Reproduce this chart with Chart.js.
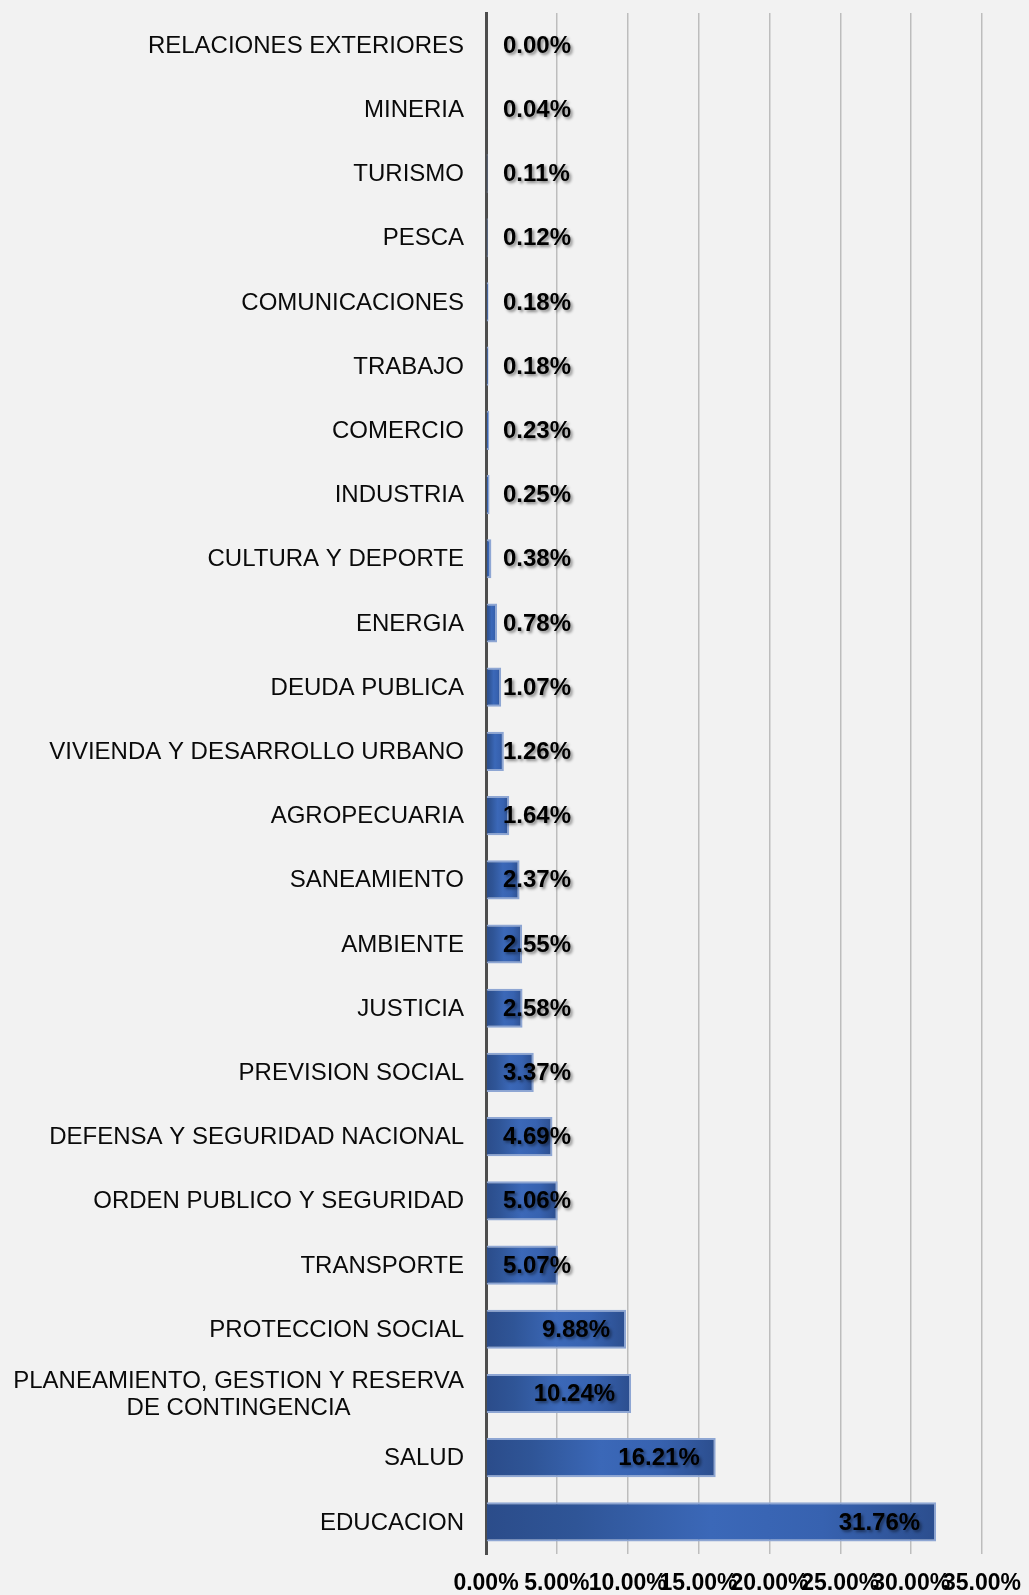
<!DOCTYPE html>
<html><head><meta charset="utf-8">
<script src="https://cdn.jsdelivr.net/npm/chart.js@4.4.1/dist/chart.umd.min.js"></script>
<style>html,body{margin:0;padding:0;background:#f2f2f2;} #wrap{width:1029px;height:1595px;position:relative}</style>
</head><body><div id="wrap"><canvas id="c" width="1029" height="1595"></canvas></div>
<script>
const categories = [
 'RELACIONES EXTERIORES','MINERIA','TURISMO','PESCA','COMUNICACIONES','TRABAJO','COMERCIO','INDUSTRIA',
 'CULTURA Y DEPORTE','ENERGIA','DEUDA PUBLICA','VIVIENDA Y DESARROLLO URBANO','AGROPECUARIA','SANEAMIENTO',
 'AMBIENTE','JUSTICIA','PREVISION SOCIAL','DEFENSA Y SEGURIDAD NACIONAL','ORDEN PUBLICO Y SEGURIDAD',
 'TRANSPORTE','PROTECCION SOCIAL',['PLANEAMIENTO, GESTION Y RESERVA','DE CONTINGENCIA'],'SALUD','EDUCACION'];
const shares = [0.00,0.04,0.11,0.12,0.18,0.18,0.23,0.25,0.38,0.78,1.07,1.26,1.64,2.37,2.55,2.58,3.37,4.69,5.06,5.07,9.88,10.24,16.21,31.76];
const xTickValues = [0,5,10,15,20,25,30,35];

const FONT = '"Liberation Sans", Arial, sans-serif';

const bgPlugin = {
  id: 'bg',
  beforeDraw(chart) {
    const c = chart.ctx;
    c.save(); c.fillStyle = '#f2f2f2'; c.fillRect(0,0,chart.width,chart.height); c.restore();
  }
};

const catLabelPlugin = {
  id: 'catLabels',
  afterDraw(chart) {
    const c = chart.ctx, ys = chart.scales.y;
    const xRight = chart.chartArea.left - 22;
    c.save();
    c.font = '24px ' + FONT;
    c.fillStyle = '#0a0a0a';
    c.textBaseline = 'middle';
    c.textAlign = 'center';
    const lh = 27;
    categories.forEach((lab, i) => {
      const lines = Array.isArray(lab) ? lab : [lab];
      const widest = Math.max(...lines.map(l => c.measureText(l).width));
      const cx = xRight - widest / 2;
      const py = ys.getPixelForValue(i);
      const y0 = py - (lines.length - 1) * lh / 2;
      lines.forEach((l, k) => c.fillText(l, cx, y0 + k * lh + 1));
    });
    c.restore();
  }
};

const valueLabelPlugin = {
  id: 'valueLabels',
  afterDatasetsDraw(chart) {
    const c = chart.ctx, xs = chart.scales.x, ys = chart.scales.y;
    const x0 = xs.getPixelForValue(0);
    c.save();
    c.font = 'bold 24px ' + FONT;
    c.fillStyle = '#000';
    c.textBaseline = 'middle';
    c.textAlign = 'right';
    c.shadowColor = 'rgba(0,0,0,0.45)';
    c.shadowOffsetX = 2; c.shadowOffsetY = 2; c.shadowBlur = 3;
    shares.forEach((v, i) => {
      const t = v.toFixed(2) + '%';
      const w = c.measureText(t).width;
      const xe = xs.getPixelForValue(v);
      const xr = Math.max(x0 + 17 + w, xe - 16);
      c.fillText(t, xr, ys.getPixelForValue(i) + 1);
    });
    c.restore();
  }
};

function barFill(ctx) {
  const chart = ctx.chart;
  if (!chart.chartArea) return '#3560a8';
  const xs = chart.scales.x;
  const a = xs.getPixelForValue(0);
  const b = xs.getPixelForValue(shares[ctx.dataIndex]);
  if (b - a < 2) return '#3560a8';
  const g = chart.ctx.createLinearGradient(a, 0, b, 0);
  g.addColorStop(0, '#2b4c8a');
  g.addColorStop(0.2, '#2f5597');
  g.addColorStop(0.5, '#3b68b8');
  g.addColorStop(0.75, '#3762b0');
  g.addColorStop(1, '#2c4e8e');
  return g;
}

new Chart(document.getElementById('c'), {
  type: 'bar',
  data: {
    labels: categories,
    datasets: [{
      data: shares,
      backgroundColor: barFill,
      borderColor: '#8ea6d3',
      borderWidth: 2,
      borderSkipped: 'start',
      barPercentage: 0.61,
      categoryPercentage: 1.0
    }]
  },
  options: {
    indexAxis: 'y',
    responsive: false,
    animation: false,
    devicePixelRatio: 1,
    layout: { padding: { top: 13, right: 47, bottom: 0, left: 0 } },
    plugins: { legend: { display: false }, tooltip: { enabled: false } },
    scales: {
      x: {
        type: 'linear',
        min: 0, max: 35,
        afterBuildTicks(s) { s.ticks = xTickValues.map(v => ({ value: v })); },
        afterFit(s) { s.height = 41; s.paddingLeft = 0; s.paddingRight = 0; },
        grid: { color: '#bdbdbd', lineWidth: 1.5, drawTicks: false },
        border: { display: false },
        ticks: {
          autoSkip: false, maxRotation: 0, minRotation: 0, padding: 16,
          color: '#000',
          font: { family: FONT, size: 23, weight: 'bold' },
          callback: v => v.toFixed(2) + '%'
        }
      },
      y: {
        type: 'category',
        afterFit(s) { s.width = 486; },
        grid: { display: false, drawTicks: false },
        border: { display: true, color: '#4d4d4d', width: 3 },
        ticks: { display: false }
      }
    }
  },
  plugins: [bgPlugin, catLabelPlugin, valueLabelPlugin]
});
</script>
</body></html>
